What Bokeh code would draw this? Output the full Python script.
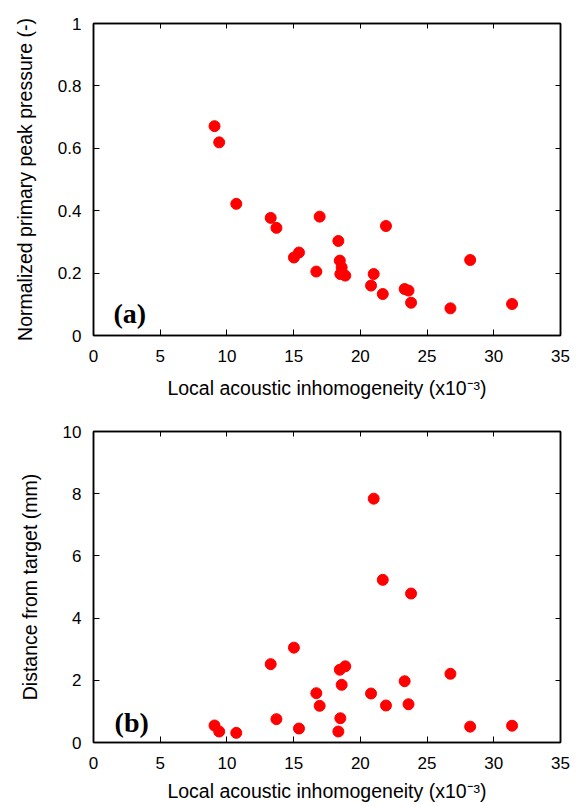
from bokeh.plotting import figure
from bokeh.models import (Range1d, LinearAxis, FixedTicker, CustomJSTickFormatter, Label,
                          ColumnDataSource, CustomLabelingPolicy)
from bokeh.layouts import column
from bokeh.embed import file_html
from bokeh.resources import INLINE

# ---- data ----
inhomogeneity = [9.07, 9.42, 10.70, 13.28, 13.71, 15.02, 15.40, 16.70, 16.95, 18.35, 18.46, 18.50,
                 18.60, 18.87, 20.80, 21.00, 21.68, 21.92, 23.32, 23.61, 23.80, 26.75, 28.23, 31.37]
peak_pressure = [0.671, 0.619, 0.422, 0.377, 0.345, 0.250, 0.266, 0.205, 0.381, 0.303, 0.240, 0.197,
                 0.218, 0.192, 0.160, 0.197, 0.133, 0.351, 0.149, 0.144, 0.105, 0.087, 0.242, 0.101]
distance = [0.547, 0.354, 0.31, 2.52, 0.75, 3.05, 0.45, 1.585, 1.18, 0.354, 2.34, 0.78,
            1.855, 2.45, 1.575, 7.84, 5.23, 1.19, 1.97, 1.23, 4.79, 2.21, 0.51, 0.54]

x_ticks = [0, 5, 10, 15, 20, 25, 30, 35]
y_ticks_a = [0, 0.2, 0.4, 0.6, 0.8, 1]
y_ticks_b = [0, 2, 4, 6, 8, 10]

x_label = "Local acoustic inhomogeneity (x10\u207b\u00b3)"
y_label_a = "Normalized primary peak pressure (-)"
y_label_b = "Distance from target (mm)"

FONT = "Liberation Sans"
fmt = CustomJSTickFormatter(code="return tick.toString();")
no_labels = CustomLabelingPolicy(code="""
    const all = [...indices];
    for (const i of all) { indices.unset(i); }
    return indices;
""")


def style_main_axis(ax, ticks):
    ax.ticker = FixedTicker(ticks=ticks)
    ax.formatter = fmt
    ax.major_tick_in = 6
    ax.major_tick_out = 0
    ax.minor_tick_in = 0
    ax.minor_tick_out = 0
    ax.axis_line_color = "black"
    ax.axis_line_width = 1.5
    ax.major_tick_line_color = "black"
    ax.major_tick_line_width = 1
    ax.major_label_text_font = FONT
    ax.major_label_text_font_size = "17px"
    ax.major_label_text_color = "black"
    ax.major_label_standoff = 14
    ax.axis_label_text_font = FONT
    ax.axis_label_text_font_size = "19.5px"
    ax.axis_label_text_font_style = "normal"
    ax.axis_label_text_color = "black"
    ax.axis_label_standoff = 12


def mirror_axis(ticks):
    ax = LinearAxis(ticker=FixedTicker(ticks=ticks), major_label_policy=no_labels)
    ax.major_tick_in = 5
    ax.major_tick_out = 0
    ax.minor_tick_in = 0
    ax.minor_tick_out = 0
    ax.axis_line_color = "black"
    ax.axis_line_width = 1.5
    ax.major_tick_line_color = "black"
    ax.major_label_standoff = 0
    return ax


def make_panel(y_vals, y_max, y_ticks, y_label, tag, tag_x, tag_y, height,
               mb_top, mb_bottom, mb_left, mb_right, xlabel_standoff):
    p = figure(width=585, height=height, output_backend="svg", toolbar_location=None,
               x_range=Range1d(0, 35), y_range=Range1d(0, y_max),
               min_border_top=mb_top, min_border_bottom=mb_bottom,
               min_border_left=mb_left, min_border_right=mb_right)
    p.grid.visible = False
    p.outline_line_color = "black"
    p.outline_line_width = 1.5
    p.background_fill_color = "white"
    p.border_fill_color = "white"

    style_main_axis(p.xaxis[0], x_ticks)
    style_main_axis(p.yaxis[0], y_ticks)
    p.xaxis[0].axis_label = x_label
    p.xaxis[0].axis_label_standoff = xlabel_standoff
    p.yaxis[0].axis_label = y_label
    p.yaxis[0].major_label_standoff = 12
    p.yaxis[0].axis_label_standoff = 19

    p.add_layout(mirror_axis(y_ticks), "right")
    p.add_layout(mirror_axis(x_ticks), "above")

    src = ColumnDataSource(dict(x=inhomogeneity, y=y_vals))
    p.scatter("x", "y", source=src, size=11, fill_color="#ff0000", line_color="#ff0000")

    p.add_layout(Label(x=tag_x, y=tag_y, text=tag, text_font="Liberation Serif",
                       text_font_style="bold", text_font_size="28px", text_color="black",
                       text_baseline="alphabetic", text_align="left"))
    return p


p1 = make_panel(peak_pressure, 1, y_ticks_a, y_label_a, "(a)", 1.5, 0.071,
                406, 23, 71, 93, 25, 12)
p2 = make_panel(distance, 10, y_ticks_b, y_label_b, "(b)", 1.58, 0.65,
                400, 25, 64, 92, 16, 8)

layout = column(p1, p2, spacing=0)
open("out.html", "w").write(file_html(layout, INLINE))
